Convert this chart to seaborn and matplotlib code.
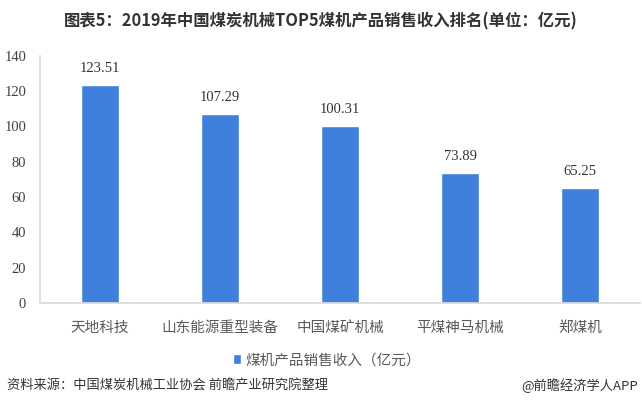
import matplotlib
matplotlib.use('Agg')
import matplotlib.pyplot as plt
import seaborn as sns
import pandas as pd

companies = ['天地科技', '山东能源重型装备', '中国煤矿机械', '平煤神马机械', '郑煤机']
revenue = [123.51, 107.29, 100.31, 73.89, 65.25]
series_name = '煤机产品销售收入（亿元）'
title = '图表5：2019年中国煤炭机械TOP5煤机产品销售收入排名(单位：亿元)'
source = '资料来源：中国煤炭机械工业协会 前瞻产业研究院整理'
brand = '@前瞻经济学人APP'

sns.set_theme(style='white')
plt.rcParams['font.family'] = ['Noto Sans CJK SC', 'DejaVu Sans']

df = pd.DataFrame({'公司': companies, '收入': revenue})

fig = plt.figure(figsize=(6.42, 4.05), dpi=100)
ax = fig.add_axes([0.0623, 0.252, 0.9347, 0.610])

bar_color = '#3f80dc'
sns.barplot(data=df, x='公司', y='收入', color=bar_color, width=0.317,
            saturation=1, ax=ax, label=series_name)

ax.set_xlim(-0.5, 4.5)
ax.set_ylim(0, 140)
ax.set_yticks(range(0, 141, 20))
ax.set_xlabel('')
ax.set_ylabel('')

for lbl in ax.get_yticklabels():
    lbl.set_fontfamily(['Liberation Serif'])
    lbl.set_fontsize(10.5)
    lbl.set_color('#404040')
for lbl in ax.get_xticklabels():
    lbl.set_fontsize(10.5)
    lbl.set_color('#595959')
ax.tick_params(axis='y', length=0, pad=10)
ax.tick_params(axis='x', length=0, pad=13)

for c in ax.containers:
    ax.bar_label(c, labels=[f'{v:.2f}' for v in revenue], padding=7,
                 fontsize=10.5, family=['Liberation Serif'], color='#333333')

for s in ['top', 'right']:
    ax.spines[s].set_visible(False)
ax.spines['left'].set_color('#d9d9d9')
ax.spines['bottom'].set_color('#d9d9d9')

leg = ax.legend(loc='upper center', bbox_to_anchor=(0.478, -0.15), frameon=False,
                fontsize=10.5, handlelength=0.6, handleheight=0.6, handletextpad=0.3)
for t in leg.get_texts():
    t.set_color('#595959')

fig.text(0.5, 0.948, title, ha='center', va='center', fontsize=11.8,
         fontweight='bold', color='#333333')
fig.text(0.011, 0.047, source, ha='left', va='center', fontsize=9.5, color='#333333')
fig.text(0.994, 0.047, brand, ha='right', va='center', fontsize=9.5, color='#333333')

fig.savefig('out.png', dpi=100)
